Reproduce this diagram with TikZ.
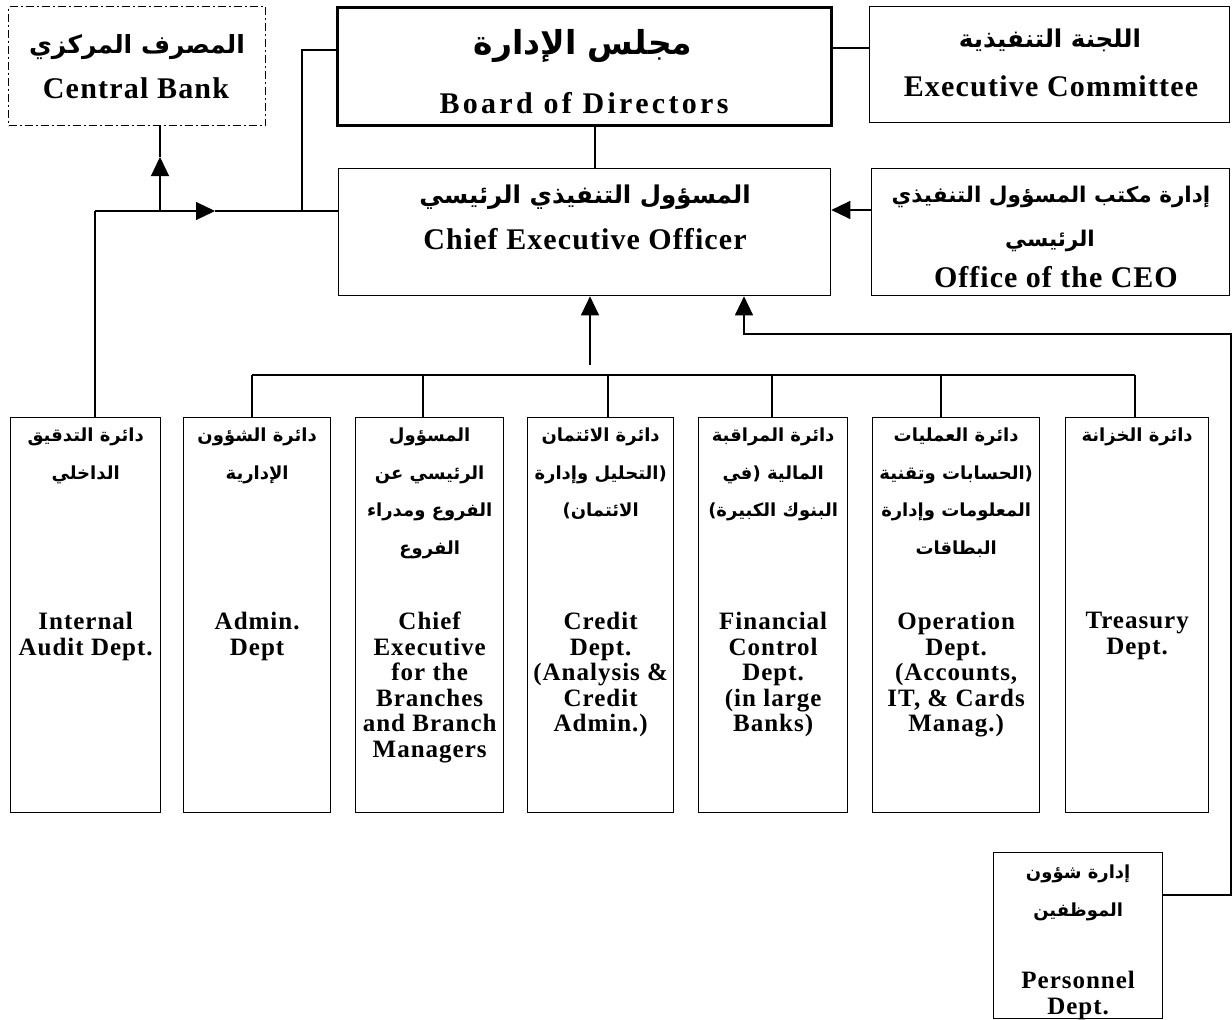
\documentclass[tikz,border=0pt]{standalone}
\usepackage{fontspec}
\setmainfont{Liberation Serif}
\newfontfamily\arabicfont[Script=Arabic]{DejaVu Sans}
\TeXXeTstate=1
\usetikzlibrary{arrows.meta}
\newcommand\RL[1]{\beginR #1\endR}
\begin{document}
\begin{tikzpicture}[x=1pt,y=-1pt,
  box/.style={draw, line width=1.3pt, inner sep=0pt, anchor=north west},
  conn/.style={line width=1.2pt},
  arr/.style={conn, -{Triangle[length=19pt,width=18pt]}},
  artop/.style={font=\arabicfont\bfseries\fontsize{#1}{#1}\selectfont, inner sep=0pt},
  entop/.style={font=\bfseries\fontsize{30}{30}\selectfont\addfontfeature{LetterSpace=#1}, inner sep=0pt},
  ardept/.style={font=\arabicfont\bfseries\fontsize{18}{37.5}\selectfont, align=center, inner sep=0pt, anchor=north},
  endept/.style={font=\bfseries\fontsize{25}{25.5}\selectfont\addfontfeature{LetterSpace=4}, align=center, inner sep=0pt, anchor=north}
]
\useasboundingbox (0,0) rectangle (1232,1020);
\fill[white] (0,0) rectangle (1232,1020);

% ---------- boxes ----------
\node[box, dash pattern=on 8pt off 3pt on 2pt off 3pt, minimum width=257pt, minimum height=119pt] (cb) at (8,6) {};
\node[box, line width=3pt, minimum width=494pt, minimum height=118pt] (board) at (336,6) {};
\node[box, minimum width=360pt, minimum height=116pt] (exec) at (869,6) {};
\node[box, minimum width=492pt, minimum height=127pt] (ceo) at (338,168) {};
\node[box, minimum width=358pt, minimum height=127pt] (office) at (871,168) {};
\node[box, minimum width=150pt, minimum height=395pt] (ia) at (10,417) {};
\node[box, minimum width=147pt, minimum height=395pt] (adm) at (183,417) {};
\node[box, minimum width=148pt, minimum height=395pt] (br) at (355,417) {};
\node[box, minimum width=146pt, minimum height=395pt] (cr) at (527,417) {};
\node[box, minimum width=149pt, minimum height=395pt] (fc) at (698,417) {};
\node[box, minimum width=167pt, minimum height=395pt] (op) at (872,417) {};
\node[box, minimum width=143pt, minimum height=395pt] (tr) at (1065,417) {};
\node[box, minimum width=169pt, minimum height=166pt] (pers) at (993,852) {};

% ---------- top texts ----------
\node[artop=25] (cbA) at (137,47) {\RL{المصرف المركزي}};
\node[entop=4] (cbE) at (136,88) {Central Bank};
\node[artop=33] (boA) at (583,46) {\RL{مجلس الإدارة}};
\node[entop=11] (boE) at (584,103) {Board of Directors};
\node[artop=24.5] (exA) at (1050,40) {\RL{اللجنة التنفيذية}};
\node[entop=4] (exE) at (1051,86) {Executive Committee};
\node[artop=24.5] (ceA) at (585,197) {\RL{المسؤول التنفيذي الرئيسي}};
\node[entop=3.6] (ceE) at (585,239) {Chief Executive Officer};
\node[artop=21.6] (ofA) at (1051,197) {\RL{إدارة مكتب المسؤول التنفيذي}};
\node[artop=21.6] (ofB) at (1050,241) {\RL{الرئيسي}};
\node[entop=3.3] (ofE) at (1056,277) {Office of the CEO};

% ---------- department texts ----------
\node[ardept] (iaA) at (ia.north |- 0,428) {\RL{دائرة التدقيق}\\\RL{الداخلي}};
\node[endept] (iaE) at (ia.north |- 0,612) {Internal\\Audit Dept.};
\node[ardept] (adA) at (adm.north |- 0,428) {\RL{دائرة الشؤون}\\\RL{الإدارية}};
\node[endept] (adE) at (adm.north |- 0,612) {Admin.\\Dept};
\node[ardept] (brA) at (br.north |- 0,428) {\RL{المسؤول}\\\RL{الرئيسي عن}\\\RL{الفروع ومدراء}\\\RL{الفروع}};
\node[endept] (brE) at (br.north |- 0,612) {Chief\\Executive\\for the\\Branches\\and Branch\\Managers};
\node[ardept] (crA) at (cr.north |- 0,428) {\RL{دائرة الائتمان}\\\RL{(التحليل وإدارة}\\\RL{الائتمان)}};
\node[endept] (crE) at (cr.north |- 0,612) {Credit\\Dept.\\(Analysis \&\\Credit\\Admin.)};
\node[ardept] (fcA) at (fc.north |- 0,428) {\RL{دائرة المراقبة}\\\RL{المالية (في}\\\RL{البنوك الكبيرة)}};
\node[endept] (fcE) at (fc.north |- 0,612) {Financial\\Control\\Dept.\\(in large\\Banks)};
\node[ardept] (opA) at (op.north |- 0,428) {\RL{دائرة العمليات}\\\RL{(الحسابات وتقنية}\\\RL{المعلومات وإدارة}\\\RL{البطاقات}};
\node[endept] (opE) at (op.north |- 0,612) {Operation\\Dept.\\(Accounts,\\IT, \& Cards\\Manag.)};
\node[ardept] (trA) at (tr.north |- 0,428) {\RL{دائرة الخزانة}};
\node[endept] (trE) at (tr.north |- 0,612) {Treasury\\Dept.};
\node[ardept, font=\arabicfont\bfseries\fontsize{18}{38}\selectfont] (peA) at (pers.north |- 0,865) {\RL{إدارة شؤون}\\\RL{الموظفين}};
\node[endept] (peE) at (pers.north |- 0,971) {Personnel\\Dept.};

% ---------- connectors ----------
\coordinate (bL) at (302,50);
\coordinate (jA) at (302,211);
\draw[conn] (board.west |- bL) -- (bL) -- (jA);
\coordinate (jIA) at (95,211);
\coordinate (ahR) at (215,211);
\draw[conn] (jIA |- ia.north) -- (jIA);
\draw[arr] (jIA) -- (ahR);
\draw[conn] (ahR) -- (ceo.west |- jIA);
\coordinate (cbj) at (160,211);
\coordinate (cbah) at (160,157);
\draw[arr] (cbj) -- (cbah);
\draw[conn] (cbah) -- (cbj |- cb.south);
\coordinate (bc) at (595,0);
\draw[conn] (bc |- board.south) -- (bc |- ceo.north);
\coordinate (be) at (0,48);
\draw[conn] (board.east |- be) -- (exec.west |- be);
\coordinate (oc) at (0,210);
\draw[arr] (office.west |- oc) -- (ceo.east |- oc);
\coordinate (up1) at (590,365);
\draw[arr] (up1) -- (up1 |- ceo.south);
\coordinate (pr) at (1231,895);
\coordinate (rc) at (1231,334);
\coordinate (up2) at (744,334);
\draw[arr] (pers.east |- pr) -- (pr) -- (rc) -- (up2) -- (up2 |- ceo.south);
% bus
\coordinate (busL) at (252,375);
\coordinate (busR) at (1135,375);
\draw[conn] (busL) -- (busR);
\foreach \xx/\bb in {252/adm, 423/br, 608/cr, 772/fc, 941/op, 1135/tr}
  \draw[conn] (\xx,375) -- (\xx,0 |- \bb.north);
\end{tikzpicture}
\end{document}
